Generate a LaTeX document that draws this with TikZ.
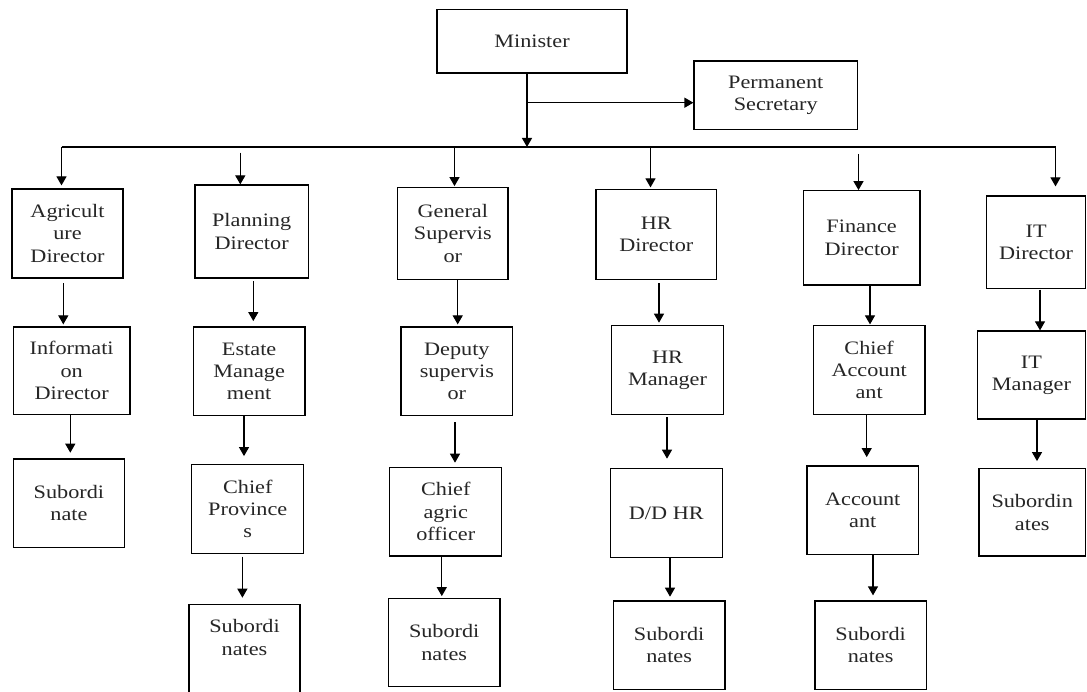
\documentclass[tikz,border=0pt]{standalone}
\usepackage{fontspec}
\setmainfont{Liberation Serif}[FakeStretch=1.17]
\usetikzlibrary{arrows.meta}
\tikzset{
  box/.style={draw=black, line width=1.2pt, inner sep=0pt, align=center,
    font=\fontsize{19}{22.3}\selectfont, text=black!85},
  txt/.style={inner sep=0pt, align=center, font=\fontsize{19}{22.3}\selectfont, text=black!85},
  arr/.style={draw=black, line width=1.2pt, -{Triangle[width=10pt,length=9pt]}},
  ln/.style={draw=black, line width=1.2pt}
}
\newcommand\bx[6]{\node[box, minimum width={(#3-#2)*1pt}, minimum height={(#5-#4)*1pt}] (#1) at ({(#2+#3)/2},{(#4+#5)/2}) {#6};}
\begin{document}
\begin{tikzpicture}[x=1pt,y=-1pt]
\clip (0,0) rectangle (1087,692);
\fill[white] (0,0) rectangle (1087,692);
% top
\bx{minister}{437}{627}{9.5}{73}{Minister}
\bx{ps}{694}{857.5}{61}{129.3}{Permanent\\Secretary}
% column 1
\bx{agri}{12}{123}{189}{278}{Agricult\\ure\\Director}
\bx{info}{13.3}{130}{327}{414.3}{Informati\\on\\Director}
\bx{sub1}{13.1}{124.7}{459}{547.7}{Subordi\\nate}
% column 2
\bx{plan}{195}{308.3}{185}{278}{Planning\\Director}
\bx{estate}{193.3}{305}{327}{415.7}{Estate\\Manage\\ment}
\bx{cp}{191.8}{303.7}{464.3}{553.3}{Chief\\Province\\s}
\bx{sub2}{189}{300}{604.3}{705}{}
\node[txt] (sub2t) at (244.5,637.5) {Subordi\\nates};
% column 3
\bx{gs}{397.7}{508}{187.7}{279.3}{General\\Supervis\\or}
\bx{dep}{401}{512.7}{327}{415.7}{Deputy\\supervis\\or}
\bx{cao}{389.8}{501.7}{467.3}{556}{Chief\\agric\\officer}
\bx{sub3}{388.4}{500}{598.3}{686.7}{Subordi\\nates}
% column 4
\bx{hrd}{596}{716.7}{189.3}{279.3}{HR\\Director}
\bx{hrm}{611.7}{723.3}{325.7}{414.3}{HR\\Manager}
\bx{ddhr}{610.5}{722.1}{468.7}{557.3}{D/D HR}
\bx{sub4}{613.3}{724.9}{601}{689.3}{Subordi\\nates}
% column 5
\bx{fd}{803.3}{920}{190.7}{285}{Finance\\Director}
\bx{ca}{813.3}{925}{325.7}{414.3}{Chief\\Account\\ant}
\bx{acc}{806.9}{918.6}{466}{554.7}{Account\\ant}
\bx{sub5}{815}{926.3}{601}{689.3}{Subordi\\nates}
% column 6
\bx{itd}{986.7}{1085.5}{196}{288.3}{IT\\Director}
\bx{itm}{977.3}{1085.5}{331}{419}{IT\\Manager}
\bx{sub6}{979}{1085.5}{468.7}{556}{Subordin\\ates}
% minister links
\coordinate (mb) at (527,147);
\coordinate (mp) at (527,102.7);
\draw[arr] (minister.south -| mb) -- (mb);
\draw[arr] (mp) -- (mp -| ps.west);
% bus
\coordinate (b1) at (61.5,147);
\coordinate (b2) at (240.3,147);
\coordinate (b3) at (454.5,147);
\coordinate (b4) at (650.5,147);
\coordinate (b5) at (858.5,147);
\coordinate (b6) at (1055.5,147);
\draw[ln] (b1) -- (b6);
\draw[arr, shorten >=3pt] (b1) -- (b1 |- agri.north);
\draw[arr, shorten <=5.7pt] (b2) -- (b2 |- plan.north);
\draw[arr, shorten >=1pt] (b3) -- (b3 |- gs.north);
\draw[arr, shorten >=1.3pt] (b4) -- (b4 |- hrd.north);
\draw[arr, shorten <=7pt] (b5) -- (b5 |- fd.north);
\draw[arr, shorten >=9pt] (b6) -- (b6 |- itd.north);
% vertical x positions
\coordinate (x11) at (63.3,0);
\coordinate (x12) at (70.3,0);
\coordinate (x21) at (253.3,0);
\coordinate (x22) at (244,0);
\coordinate (x23) at (242.4,0);
\coordinate (x31) at (457.7,0);
\coordinate (x32) at (455,0);
\coordinate (x33) at (441.8,0);
\coordinate (x41) at (659,0);
\coordinate (x42) at (667,0);
\coordinate (x43) at (670,0);
\coordinate (x51) at (870,0);
\coordinate (x52) at (866.7,0);
\coordinate (x53) at (873,0);
\coordinate (x61) at (1040,0);
\coordinate (x62) at (1037,0);
% column arrows
\draw[arr, shorten <=4.7pt, shorten >=2pt] (agri.south -| x11) -- (info.north -| x11);
\draw[arr, shorten >=5.7pt] (info.south -| x12) -- (sub1.north -| x12);
\draw[arr, shorten <=2.7pt, shorten >=5.3pt] (plan.south -| x21) -- (estate.north -| x21);
\draw[arr, shorten >=7.6pt] (estate.south -| x22) -- (cp.north -| x22);
\draw[arr, shorten <=2.7pt, shorten >=6pt] (cp.south -| x23) -- (sub2.north -| x23);
\draw[arr, shorten >=2pt] (gs.south -| x31) -- (dep.north -| x31);
\draw[arr, shorten <=6pt, shorten >=4pt] (dep.south -| x32) -- (cao.north -| x32);
\draw[arr, shorten >=1.6pt] (cao.south -| x33) -- (sub3.north -| x33);
\draw[arr, shorten <=3.4pt, shorten >=2.4pt] (hrd.south -| x41) -- (hrm.north -| x41);
\draw[arr, shorten <=2.4pt, shorten >=9.4pt] (hrm.south -| x42) -- (ddhr.north -| x42);
\draw[arr, shorten >=3.7pt] (ddhr.south -| x43) -- (sub4.north -| x43);
\draw[arr, shorten >=0.7pt] (fd.south -| x51) -- (ca.north -| x51);
\draw[arr, shorten >=8.3pt] (ca.south -| x52) -- (acc.north -| x52);
\draw[arr, shorten >=5pt] (acc.south -| x53) -- (sub5.north -| x53);
\draw[arr, shorten <=0.7pt] (itd.south -| x61) -- (itm.north -| x61);
\draw[arr, shorten >=7pt] (itm.south -| x62) -- (sub6.north -| x62);
\end{tikzpicture}
\end{document}
